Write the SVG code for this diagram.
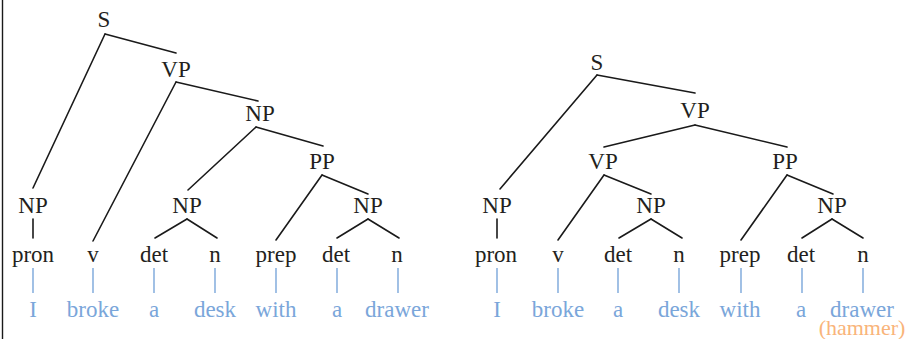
<svg xmlns="http://www.w3.org/2000/svg" width="908" height="339" viewBox="0 0 908 339">
  <style>
    text { font-family: 'Liberation Serif', Tinos, 'DejaVu Serif', 'Times New Roman', serif; font-size: 23px; text-anchor: middle; }
    .cat { fill: #231f20; }
    .word { fill: #7aa6da; }
    .alt { fill: #f9b47a; font-size: 22px; }
    .edge { stroke: #1a1a1a; stroke-width: 1.6; fill: none; stroke-linecap: round; }
    .lex { stroke: #7aa6da; stroke-width: 1.4; fill: none; }
  </style>
  <rect width="908" height="339" fill="#ffffff"/>
  <!-- left frame rule -->
  <line x1="2.5" y1="0" x2="2.5" y2="339" stroke="#1a1a1a" stroke-width="1.4"/>

  <g font-family="'Liberation Serif', Tinos, 'DejaVu Serif', serif">
  <!-- ===== Tree 1: PP attached to the object NP ===== -->
  <g id="connectors-left">
    <line class="edge" x1="105" y1="34" x2="176" y2="53"/>
    <line class="edge" x1="105" y1="34" x2="33" y2="188"/>
    <line class="edge" x1="176" y1="82" x2="258" y2="101"/>
    <line class="edge" x1="176" y1="82" x2="93" y2="241"/>
    <line class="edge" x1="256" y1="127" x2="323" y2="146"/>
    <line class="edge" x1="256" y1="127" x2="188" y2="190"/>
    <line class="edge" x1="322" y1="175" x2="276" y2="240"/>
    <line class="edge" x1="322" y1="175" x2="368" y2="194"/>
    <line class="edge" x1="33" y1="219" x2="33" y2="238"/>
    <line class="edge" x1="187" y1="219" x2="155" y2="238"/>
    <line class="edge" x1="187" y1="219" x2="217" y2="238"/>
    <line class="edge" x1="368" y1="219" x2="337" y2="238"/>
    <line class="edge" x1="368" y1="219" x2="399" y2="238"/>
    <line class="lex" x1="33" y1="268" x2="33" y2="293"/>
    <line class="lex" x1="93" y1="268" x2="93" y2="293"/>
    <line class="lex" x1="154" y1="268" x2="154" y2="293"/>
    <line class="lex" x1="215" y1="268" x2="215" y2="293"/>
    <line class="lex" x1="276" y1="268" x2="276" y2="293"/>
    <line class="lex" x1="337" y1="268" x2="337" y2="293"/>
    <line class="lex" x1="398" y1="268" x2="398" y2="293"/>
  </g>
  <g id="l-S"><text class="cat" x="104" y="27">S</text></g>
  <g id="l-VP"><text class="cat" x="176" y="77">VP</text></g>
  <g id="l-NP-obj"><text class="cat" x="260" y="121">NP</text></g>
  <g id="l-PP"><text class="cat" x="322" y="169">PP</text></g>
  <g id="l-NP-subj"><text class="cat" x="33" y="213">NP</text></g>
  <g id="l-NP-desk"><text class="cat" x="187" y="213">NP</text></g>
  <g id="l-NP-drawer"><text class="cat" x="368" y="213">NP</text></g>
  <g id="l-pron"><text class="cat" x="33" y="262">pron</text><text class="word" x="33" y="317">I</text></g>
  <g id="l-v"><text class="cat" x="93" y="262">v</text><text class="word" x="93" y="317">broke</text></g>
  <g id="l-det1"><text class="cat" x="154" y="262">det</text><text class="word" x="154" y="317">a</text></g>
  <g id="l-n1"><text class="cat" x="215" y="262">n</text><text class="word" x="215" y="317">desk</text></g>
  <g id="l-prep"><text class="cat" x="276" y="262">prep</text><text class="word" x="276" y="317">with</text></g>
  <g id="l-det2"><text class="cat" x="336" y="262">det</text><text class="word" x="337" y="317">a</text></g>
  <g id="l-n2"><text class="cat" x="397" y="262">n</text><text class="word" x="397" y="317">drawer</text></g>

  <!-- ===== Tree 2: PP attached to the VP ===== -->
  <g id="connectors-right">
    <line class="edge" x1="597" y1="75" x2="695" y2="93"/>
    <line class="edge" x1="597" y1="75" x2="500" y2="189"/>
    <line class="edge" x1="695" y1="125" x2="604" y2="147"/>
    <line class="edge" x1="695" y1="125" x2="787" y2="147"/>
    <line class="edge" x1="604" y1="175" x2="558" y2="240"/>
    <line class="edge" x1="604" y1="175" x2="651" y2="194"/>
    <line class="edge" x1="787" y1="175" x2="741" y2="240"/>
    <line class="edge" x1="787" y1="175" x2="833" y2="194"/>
    <line class="edge" x1="497" y1="219" x2="497" y2="238"/>
    <line class="edge" x1="651" y1="219" x2="619" y2="238"/>
    <line class="edge" x1="651" y1="219" x2="682" y2="238"/>
    <line class="edge" x1="832" y1="219" x2="802" y2="238"/>
    <line class="edge" x1="832" y1="219" x2="863" y2="238"/>
    <line class="lex" x1="497" y1="268" x2="497" y2="293"/>
    <line class="lex" x1="558" y1="268" x2="558" y2="293"/>
    <line class="lex" x1="618" y1="268" x2="618" y2="293"/>
    <line class="lex" x1="679" y1="268" x2="679" y2="293"/>
    <line class="lex" x1="741" y1="268" x2="741" y2="293"/>
    <line class="lex" x1="802" y1="268" x2="802" y2="293"/>
    <line class="lex" x1="863" y1="268" x2="863" y2="293"/>
  </g>
  <g id="r-S"><text class="cat" x="597" y="70">S</text></g>
  <g id="r-VP"><text class="cat" x="695" y="118">VP</text></g>
  <g id="r-VP-inner"><text class="cat" x="603" y="169">VP</text></g>
  <g id="r-PP"><text class="cat" x="785" y="169">PP</text></g>
  <g id="r-NP-subj"><text class="cat" x="497" y="213">NP</text></g>
  <g id="r-NP-desk"><text class="cat" x="651" y="213">NP</text></g>
  <g id="r-NP-drawer"><text class="cat" x="832" y="213">NP</text></g>
  <g id="r-pron"><text class="cat" x="496" y="262">pron</text><text class="word" x="497" y="317">I</text></g>
  <g id="r-v"><text class="cat" x="558" y="262">v</text><text class="word" x="558" y="317">broke</text></g>
  <g id="r-det1"><text class="cat" x="618" y="262">det</text><text class="word" x="618" y="317">a</text></g>
  <g id="r-n1"><text class="cat" x="679" y="262">n</text><text class="word" x="679" y="317">desk</text></g>
  <g id="r-prep"><text class="cat" x="740" y="262">prep</text><text class="word" x="740" y="317">with</text></g>
  <g id="r-det2"><text class="cat" x="801" y="262">det</text><text class="word" x="801" y="317">a</text></g>
  <g id="r-n2"><text class="cat" x="863" y="262">n</text><text class="word" x="862" y="317">drawer</text><text class="alt" x="862" y="335">(hammer)</text></g>
  </g>
</svg>
